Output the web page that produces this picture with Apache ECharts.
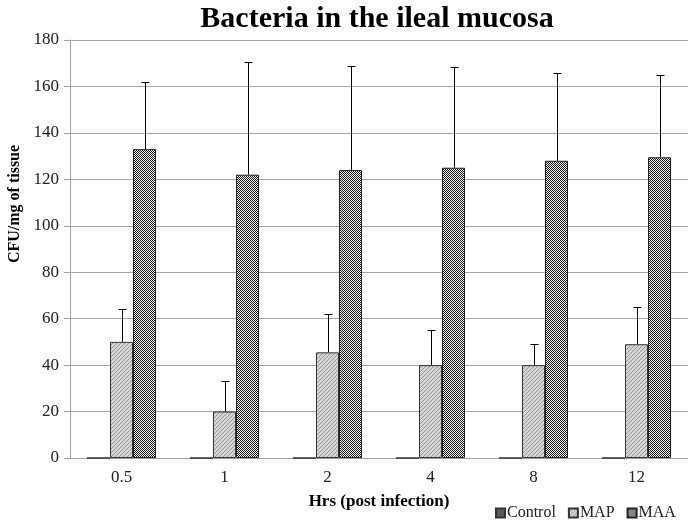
<!DOCTYPE html>
<html>
<head>
<meta charset="utf-8">
<script src="https://cdn.jsdelivr.net/npm/echarts@6/dist/echarts.min.js"></script>
<style>
  html, body { margin: 0; padding: 0; background: #fff; }
  #chart { width: 688px; height: 521px; }
</style>
</head>
<body>
<div id="chart"></div>
<script>
// data
const hours = ["0.5", "1", "2", "4", "8", "12"];
const control = [0, 0, 0, 0, 0, 0];
const map = [50, 20, 45.5, 40, 40, 49];
const mapErr = [14, 13, 16.5, 15, 9, 16];
const maa = [133, 122, 124, 125, 128, 129.5];
const maaErr = [29, 48.5, 45, 43.5, 38, 35.5];

// hatch patterns like the office chart fills
function hatch() {
  const c = document.createElement("canvas");
  c.width = 4; c.height = 4;
  const g = c.getContext("2d");
  g.fillStyle = "#d4d4d4";
  g.fillRect(0, 0, 4, 4);
  g.fillStyle = "#9a9a9a";
  for (let i = 0; i < 4; i++) g.fillRect(3 - i, i, 1, 1);
  return c;
}
function checker() {
  const c = document.createElement("canvas");
  c.width = 2; c.height = 2;
  const g = c.getContext("2d");
  g.fillStyle = "#1a1a1a";
  g.fillRect(0, 0, 2, 2);
  g.fillStyle = "#f0f0f0";
  g.fillRect(1, 0, 1, 1);
  g.fillRect(0, 1, 1, 1);
  return c;
}

const serif = "'Liberation Serif', 'DejaVu Serif', serif";

function errorBar(offsetIdx) {
  return function (params, api) {
    const i = api.value(0);
    const base = api.coord([i, api.value(1)]);
    const top = api.coord([i, api.value(1) + api.value(2)]);
    const band = api.size([1, 0])[0];
    const bw = band * 0.67 / 3;
    const x = Math.round(base[0] + offsetIdx * bw) + 0.5;
    const ty = Math.round(top[1]) + 0.5;
    const st = { stroke: "#000", lineWidth: 1 };
    return {
      type: "group",
      children: [
        { type: "line", shape: { x1: x, y1: base[1], x2: x, y2: ty }, style: st },
        { type: "line", shape: { x1: x - 4, y1: ty, x2: x + 4, y2: ty }, style: st }
      ]
    };
  };
}

const chart = echarts.init(document.getElementById("chart"));
chart.setOption({
  animation: false,
  textStyle: { fontFamily: serif },
  title: {
    text: "Bacteria in the ileal mucosa",
    left: 372,
    top: -1,
    textAlign: "center",
    textStyle: { fontFamily: serif, fontSize: 30, fontWeight: "bold", color: "#000" }
  },
  legend: {
    data: ["Control", "MAP", "MAA"],
    left: 490,
    top: 500,
    icon: "rect",
    itemWidth: 9,
    itemHeight: 9,
    itemGap: 12,
    textStyle: { fontFamily: serif, fontSize: 16, color: "#222", padding: [0, 0, 0, -3] }
  },
  grid: { left: 70, right: 0, top: 40, bottom: 63 },
  xAxis: {
    type: "category",
    data: hours,
    name: "Hrs (post infection)",
    nameLocation: "middle",
    nameGap: 35,
    nameTextStyle: { fontFamily: serif, fontSize: 17, fontWeight: "bold", color: "#000" },
    axisLine: { lineStyle: { color: "#a0a0a0" } },
    axisTick: { length: 5, lineStyle: { color: "#a0a0a0" } },
    axisLabel: { fontFamily: serif, fontSize: 17, color: "#222", margin: 11 }
  },
  yAxis: {
    type: "value",
    min: 0,
    max: 180,
    interval: 20,
    axisLine: { show: true, lineStyle: { color: "#a0a0a0" } },
    axisTick: { show: true, length: 6, lineStyle: { color: "#a0a0a0" } },
    splitLine: { lineStyle: { color: "#a6a6a6" } },
    axisLabel: { fontFamily: serif, fontSize: 17, color: "#222", margin: 11 }
  },
  graphic: [{
    type: "text",
    x: 15,
    y: 204,
    rotation: Math.PI / 2,
    style: {
      text: "CFU/mg of tissue",
      font: "bold 16px " + serif,
      fill: "#000",
      align: "center",
      verticalAlign: "middle"
    }
  }],
  series: [
    {
      name: "Control", type: "bar", data: control,
      barGap: "0%", barCategoryGap: "33%",
      itemStyle: { color: "#595959", borderColor: "#333", borderWidth: 1 }
    },
    {
      name: "MAP", type: "bar", data: map,
      barGap: "0%", barCategoryGap: "33%",
      itemStyle: { color: { image: hatch(), repeat: "repeat" }, borderColor: "#333", borderWidth: 1 }
    },
    {
      name: "MAA", type: "bar", data: maa,
      barGap: "0%", barCategoryGap: "33%",
      itemStyle: { color: { image: checker(), repeat: "repeat" }, borderColor: "#222", borderWidth: 1 }
    },
    {
      type: "custom", name: "MAP err", z: 1,
      renderItem: errorBar(0),
      data: map.map((v, i) => [i, v, mapErr[i]])
    },
    {
      type: "custom", name: "MAA err", z: 1,
      renderItem: errorBar(1),
      data: maa.map((v, i) => [i, v, maaErr[i]])
    }
  ]
});
</script>
</body>
</html>
